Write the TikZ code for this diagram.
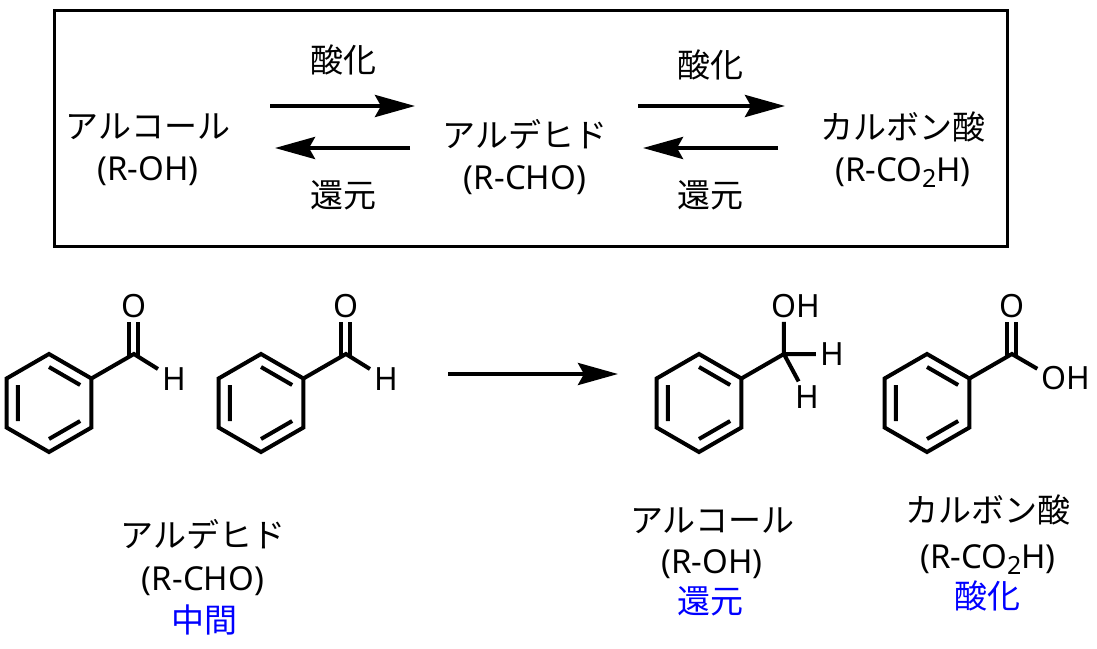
\documentclass[tikz,border=0pt]{standalone}
\usepackage{fontspec}
\setmainfont{Noto Sans}
\newfontfamily\jp{Noto Sans CJK JP}
\usepackage{tikz}
\usetikzlibrary{calc,arrows.meta,positioning}

\begin{document}
\begin{tikzpicture}[x=1pt,y=-1pt,
  bond/.style={line width=4pt},
  rxn/.style={line width=4pt,-{Stealth[length=40pt,width=22pt,inset=6pt]}},
  atom/.style={font=\fontsize{32}{38}\selectfont,inner sep=4pt},
  txt/.style={font=\fontsize{33}{40}\selectfont,anchor=base,inner sep=0pt},
  note/.style={txt,text=blue}]
\useasboundingbox (0,0) rectangle (1097,648);

% box with the two equilibria
\draw[line width=3pt] (54,10) rectangle (1007,246);
\node[txt] (alc) at (148,138) {\jp アルコール};
\node[txt] (alcf) at (148,180) {(R-OH)};
\node[txt] (ald) at (525,147) {\jp アルデヒド};
\node[txt] (aldf) at (525,189) {(R-CHO)};
\node[txt] (acid) at (903,139) {\jp カルボン酸};
\node[txt] (acidf) at (903,181) {(R-CO{\fontsize{25}{25}\selectfont\raisebox{-6pt}{2}}H)};
\node[txt] (ox1) at (343,72) {\jp 酸化};
\node[txt] (red1) at (343,207) {\jp 還元};
\node[txt] (ox2) at (710,77) {\jp 酸化};
\node[txt] (red2) at (710,207) {\jp 還元};
\coordinate (a1) at (270,106);
\coordinate (a2) at (415,106);
\coordinate (a3) at (410,148);
\coordinate (a4) at (275,148);
\coordinate (a5) at (638,106);
\coordinate (a6) at (785,106);
\coordinate (a7) at (778,148);
\coordinate (a8) at (643,148);
\draw[rxn] (a1) -- (a2);
\draw[rxn] (a3) -- (a4);
\draw[rxn] (a5) -- (a6);
\draw[rxn] (a7) -- (a8);

% benzaldehyde
\draw[bond,shift={(49,403)}] (30:49) -- (90:49) -- (150:49) -- (210:49) -- (270:49) -- (330:49) -- cycle
  (270:36) -- (330:36) (30:36) -- (90:36) (150:36) -- (210:36);
\coordinate (r1) at (91.4,378.5);
\coordinate (c1) at (133.9,354);
\node[atom] (o1) at (133.9,306) {O};
\node[atom] (h1) at (174,379) {H};
\draw[bond] (r1) -- (c1) -- (h1);
\draw[bond] ([shift={(-4.5pt,-2.5pt)}]c1) -- ([xshift=-4.5pt]o1.south);
\draw[bond] ([shift={(4.5pt,-2.5pt)}]c1) -- ([xshift=4.5pt]o1.south);

% benzaldehyde
\draw[bond,shift={(261,403)}] (30:49) -- (90:49) -- (150:49) -- (210:49) -- (270:49) -- (330:49) -- cycle
  (270:36) -- (330:36) (30:36) -- (90:36) (150:36) -- (210:36);
\coordinate (r2) at (303.4,378.5);
\coordinate (c2) at (345.9,354);
\node[atom] (o2) at (345.9,306) {O};
\node[atom] (h2) at (386,379) {H};
\draw[bond] (r2) -- (c2) -- (h2);
\draw[bond] ([shift={(-4.5pt,-2.5pt)}]c2) -- ([xshift=-4.5pt]o2.south);
\draw[bond] ([shift={(4.5pt,-2.5pt)}]c2) -- ([xshift=4.5pt]o2.south);

\coordinate (ra) at (448,374);
\coordinate (rb) at (618,374);
\draw[rxn] (ra) -- (rb);

% benzyl alcohol
\draw[bond,shift={(699,403)}] (30:49) -- (90:49) -- (150:49) -- (210:49) -- (270:49) -- (330:49) -- cycle
  (270:36) -- (330:36) (30:36) -- (90:36) (150:36) -- (210:36);
\coordinate (r3) at (741.4,378.5);
\coordinate (c3) at (783.9,354);
\node[atom] (o3) at (783.9,306) {O};
\node[atom,right=-8pt of o3] (h3) {H};
\node[atom] (h4) at (832,354) {H};
\node[atom] (h5) at (807,397) {H};
\draw[bond] (r3) -- (c3) -- (o3);
\draw[bond] (c3) -- (h4) (c3) -- (h5);

% benzoic acid
\draw[bond,shift={(927,403)}] (30:49) -- (90:49) -- (150:49) -- (210:49) -- (270:49) -- (330:49) -- cycle
  (270:36) -- (330:36) (30:36) -- (90:36) (150:36) -- (210:36);
\coordinate (r4) at (969.4,378.5);
\coordinate (c4) at (1011.9,354);
\node[atom] (o4) at (1011.9,306) {O};
\node[atom] (o5) at (1054,378.5) {O};
\node[atom,right=-8pt of o5] (h6) {H};
\draw[bond] (r4) -- (c4) -- (o5);
\draw[bond] ([shift={(-4.5pt,-2.5pt)}]c4) -- ([xshift=-4.5pt]o4.south);
\draw[bond] ([shift={(4.5pt,-2.5pt)}]c4) -- ([xshift=4.5pt]o4.south);

% names under the molecules
\node[txt] (ald2) at (203,547) {\jp アルデヒド};
\node[txt] (ald2f) at (203,590) {(R-CHO)};
\node[note] (mid) at (204,632) {\jp 中間};
\node[txt] (alc2) at (712,532) {\jp アルコール};
\node[txt] (alc2f) at (712,573) {(R-OH)};
\node[note] (red3) at (710,613) {\jp 還元};
\node[txt] (acid2) at (988,522) {\jp カルボン酸};
\node[txt] (acid2f) at (988,568) {(R-CO{\fontsize{25}{25}\selectfont\raisebox{-6pt}{2}}H)};
\node[note] (ox3) at (987,608) {\jp 酸化};
\end{tikzpicture}
\end{document}
